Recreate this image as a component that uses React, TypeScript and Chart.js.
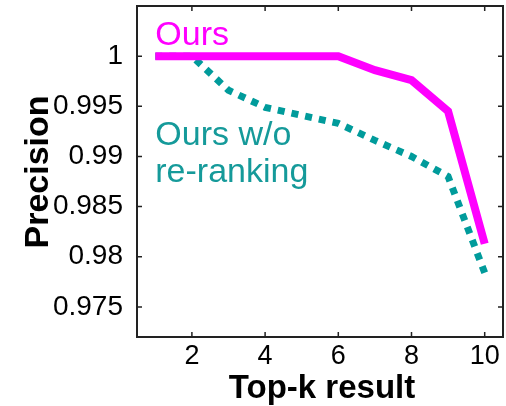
import React, { useEffect, useRef } from "react";
import { Chart, registerables } from "chart.js";

Chart.register(...registerables);

const topK = [1, 2, 3, 4, 5, 6, 7, 8, 9, 10];
const ours = [1, 1, 1, 1, 1, 1, 0.9986, 0.9976, 0.9945, 0.9813];
const oursNoRerank = [1, 1, 0.9966, 0.9949, 0.9941, 0.9933, 0.9916, 0.99, 0.9880, 0.9784];
const xTicks = [2, 4, 6, 8, 10];
const yTicks = [0.975, 0.98, 0.985, 0.99, 0.995, 1];
const yTickLabels = ["0.975", "0.98", "0.985", "0.99", "0.995", "1"];
const seriesNames = ["Ours", "Ours w/o re-ranking"];
const oursLabel = ["Ours"];
const noRerankLabel = ["Ours w/o", "re-ranking"];
const xTitle = "Top-k result";
const yTitle = "Precision";

const MAGENTA = "#ff00ff";
const TEAL = "#009b9b";
const TEAL_TEXT = "#159a9a";
const FONT = "'Liberation Sans', Arial, Helvetica, sans-serif";

const framePlugin = {
  id: "matlabFrame",
  afterDraw(chart: any) {
    const { ctx, chartArea: a, scales } = chart;
    const xs = scales.x;
    const ys = scales.y;
    ctx.save();
    ctx.strokeStyle = "#222";
    ctx.lineWidth = 2;
    ctx.strokeRect(a.left, a.top, a.right - a.left, a.bottom - a.top);
    const tl = 5;
    ctx.lineWidth = 1.5;
    ctx.beginPath();
    xTicks.forEach((v) => {
      const px = xs.getPixelForValue(v);
      ctx.moveTo(px, a.bottom);
      ctx.lineTo(px, a.bottom - tl);
      ctx.moveTo(px, a.top);
      ctx.lineTo(px, a.top + tl);
    });
    yTicks.forEach((v) => {
      const py = ys.getPixelForValue(v);
      ctx.moveTo(a.left, py);
      ctx.lineTo(a.left + tl, py);
      ctx.moveTo(a.right, py);
      ctx.lineTo(a.right - tl, py);
    });
    ctx.stroke();

    // in-plot labels
    ctx.textAlign = "left";
    ctx.textBaseline = "alphabetic";
    ctx.font = `34px ${FONT}`;
    const lx = xs.getPixelForValue(topK[0]);
    ctx.fillStyle = MAGENTA;
    ctx.fillText(oursLabel[0], lx, ys.getPixelForValue(1.0011));
    ctx.fillStyle = TEAL_TEXT;
    ctx.fillText(noRerankLabel[0], lx, ys.getPixelForValue(0.9911));
    ctx.fillText(noRerankLabel[1], lx, ys.getPixelForValue(0.98745));

    // axis titles
    ctx.fillStyle = "#000";
    ctx.textAlign = "center";
    ctx.textBaseline = "alphabetic";
    ctx.font = `bold 33px ${FONT}`;
    ctx.fillText(xTitle, 322, 398);
    ctx.font = `bold 34px ${FONT}`;
    ctx.save();
    ctx.translate(48, 172);
    ctx.rotate(-Math.PI / 2);
    ctx.fillText(yTitle, 0, 0);
    ctx.restore();
    ctx.restore();
  },
};

export default function App() {
  const ref = useRef<HTMLCanvasElement | null>(null);
  useEffect(() => {
    document.body.style.margin = "0";
    const chart = new Chart(ref.current as HTMLCanvasElement, {
      type: "line",
      data: {
        datasets: [
          {
            label: seriesNames[0],
            data: topK.map((x, i) => ({ x, y: ours[i] })),
            borderColor: MAGENTA,
            borderWidth: 8,
            pointRadius: 0,
            borderCapStyle: "butt",
            borderJoinStyle: "miter",
            order: 0,
          },
          {
            label: seriesNames[1],
            data: topK.map((x, i) => ({ x, y: oursNoRerank[i] })),
            borderColor: TEAL,
            borderWidth: 7,
            borderDash: [7, 7],
            pointRadius: 0,
            borderCapStyle: "butt",
            order: 1,
          },
        ],
      },
      options: {
        responsive: false,
        animation: false,
        layout: { padding: { left: 0, right: 3, top: 6, bottom: 0 } },
        plugins: { legend: { display: false }, tooltip: { enabled: false } },
        scales: {
          x: {
            type: "linear",
            min: 0.5,
            max: 10.5,
            grid: { display: false },
            border: { display: false },
            afterBuildTicks: (s: any) => {
              s.ticks = xTicks.map((v) => ({ value: v }));
            },
            afterFit: (s: any) => {
              s.height = 69;
              s.paddingLeft = 0;
              s.paddingRight = 0;
            },
            ticks: {
              color: "#000",
              font: { family: FONT, size: 27 },
              padding: -5,
              maxRotation: 0,
              autoSkip: false,
              callback: (v: any) => String(v),
            },
          },
          y: {
            type: "linear",
            min: 0.972,
            max: 1.005,
            grid: { display: false },
            border: { display: false },
            afterBuildTicks: (s: any) => {
              s.ticks = yTicks.map((v) => ({ value: v }));
            },
            afterFit: (s: any) => {
              s.width = 137;
              s.paddingTop = 0;
              s.paddingBottom = 0;
            },
            ticks: {
              color: "#000",
              font: { family: FONT, size: 28 },
              padding: 6,
              autoSkip: false,
              callback: (v: any) => {
                const i = yTicks.findIndex((t) => Math.abs(t - Number(v)) < 1e-9);
                return i >= 0 ? yTickLabels[i] : "";
              },
            },
          },
        },
      },
      plugins: [framePlugin],
    } as any);
    return () => chart.destroy();
  }, []);
  return (
    <div style={{ width: 506, height: 406 }}>
      <canvas ref={ref} width={506} height={406} style={{ display: "block" }} />
    </div>
  );
}
